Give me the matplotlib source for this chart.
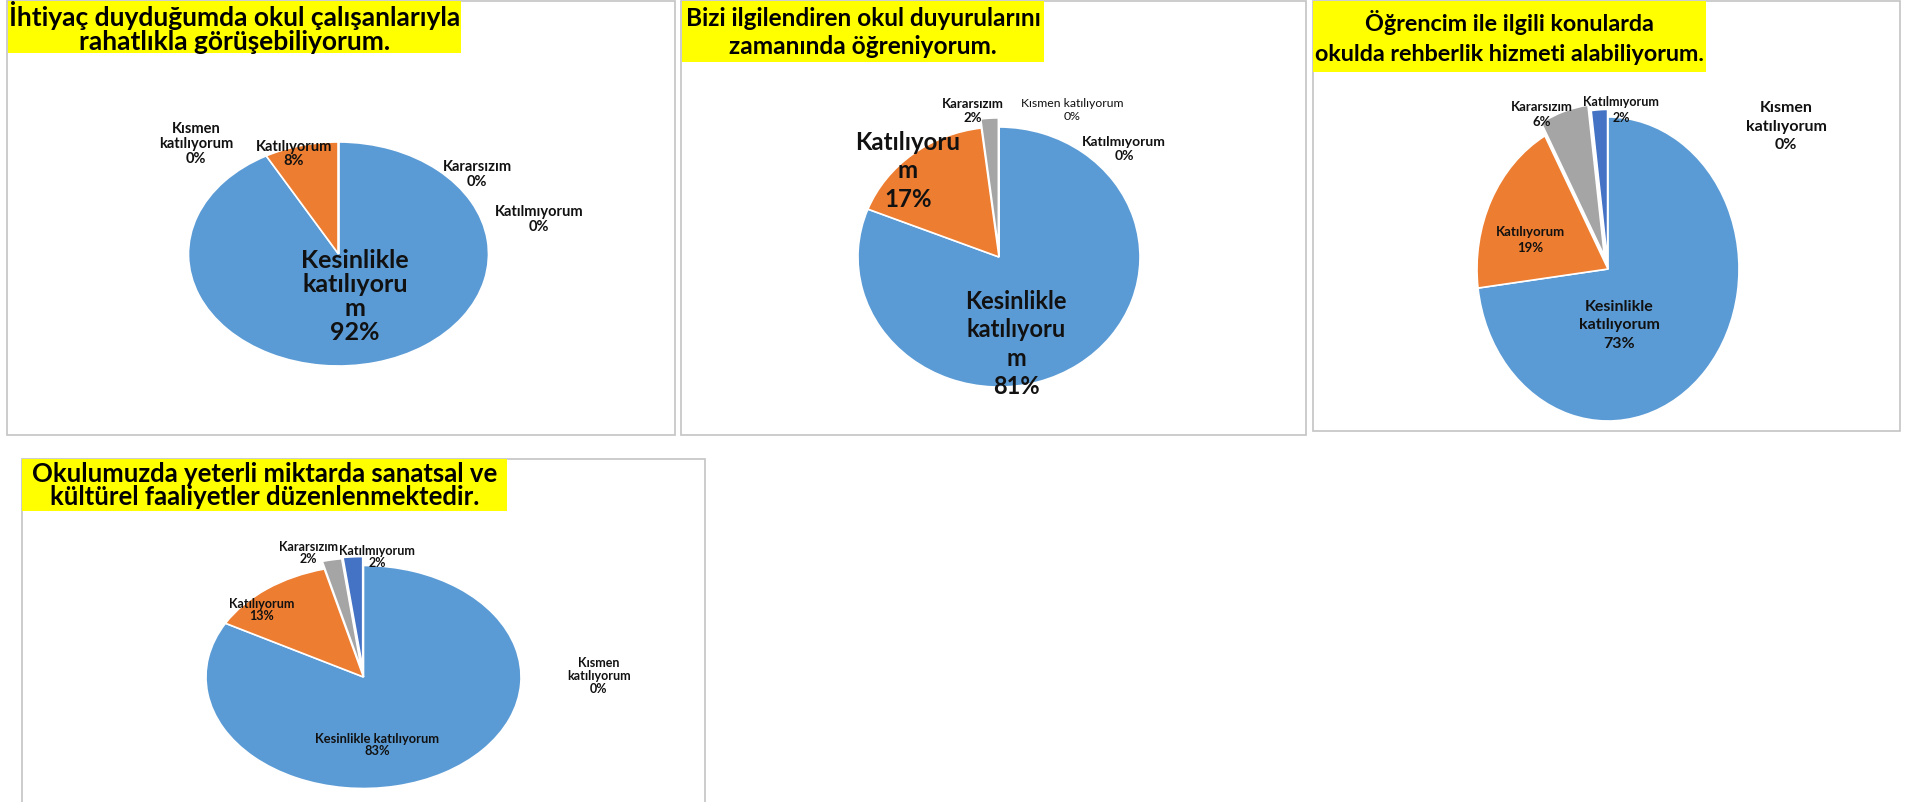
import matplotlib
matplotlib.use("Agg")
import matplotlib.pyplot as plt
from matplotlib.patches import Rectangle

plt.rcParams["font.family"] = ["Lato", "DejaVu Sans"]

W, H = 1908, 803

# --- data ---------------------------------------------------------------
categories = ["Kesinlikle katılıyorum", "Katılıyorum", "Kararsızım",
              "Kısmen katılıyorum", "Katılmıyorum"]
colors = ["#5B9BD5", "#ED7D31", "#A5A5A5", "#FFC000", "#4472C4"]

q1_title = "İhtiyaç duyduğumda okul çalışanlarıyla\nrahatlıkla görüşebiliyorum."
q2_title = "Bizi ilgilendiren okul duyurularını\nzamanında öğreniyorum."
q3_title = "Öğrencim ile ilgili konularda\nokulda rehberlik hizmeti alabiliyorum."
q4_title = "Okulumuzda yeterli miktarda sanatsal ve\nkültürel faaliyetler düzenlenmektedir."

q1_vals = [92, 8, 0, 0, 0]
q2_vals = [81, 17, 2, 0, 0]
q3_vals = [73, 19, 6, 0, 2]
q4_vals = [83, 13, 2, 0, 2]


def fx(x):
    return x / W


def fy(y):
    return 1 - y / H


fig = plt.figure(figsize=(W / 100, H / 100), dpi=100)
fig.patch.set_facecolor("white")


def frame(x0, y0, x1, y1):
    fig.patches.append(Rectangle((fx(x0), fy(y1)), fx(x1 - x0), (y1 - y0) / H,
                                 transform=fig.transFigure, fill=False,
                                 edgecolor="#C4C4C4", linewidth=1.2))


def title_box(x0, y0, x1, y1, text, size, ls=1.2):
    fig.patches.append(Rectangle((fx(x0), fy(y1)), fx(x1 - x0), (y1 - y0) / H,
                                 transform=fig.transFigure, facecolor="#FFFF00",
                                 edgecolor="none", zorder=2))
    fig.text(fx((x0 + x1) / 2), fy((y0 + y1) / 2), text, ha="center", va="center",
             fontsize=size, fontweight="bold", linespacing=ls, zorder=3)


def pie(cx, cy, rx, ry, vals, explode):
    m = 1.25
    ax = fig.add_axes([fx(cx - rx * m), fy(cy + ry * m), 2 * rx * m / W, 2 * ry * m / H])
    ax.pie(vals, colors=colors, startangle=90, counterclock=False, explode=explode,
           wedgeprops=dict(edgecolor="white", linewidth=1.2))
    ax.set_aspect("auto")
    ax.set_xlim(-m, m)
    ax.set_ylim(-m, m)
    ax.axis("off")
    return ax


def label(x, y, name, val, size, ls=1.2, weight="bold"):
    fig.text(fx(x), fy(y), f"{name}\n{val}%", ha="center", va="center",
             fontsize=size, fontweight=weight, linespacing=ls, color="#111111",
             zorder=5)


# --- panel 1 ------------------------------------------------------------
frame(7, 2, 675, 436)
title_box(8, 2, 461, 54, q1_title, 19, ls=1.0)
pie(338.5, 255, 150, 112, q1_vals, [0, 0, 0, 0, 0])
label(196, 144, "Kısmen\nkatılıyorum", q1_vals[3], 10.5, ls=1.05)
label(294, 154, "Katılıyorum", q1_vals[1], 10.5, ls=1.05)
label(477, 174.5, "Kararsızım", q1_vals[2], 10.5, ls=1.05)
label(539, 219.5, "Katılmıyorum", q1_vals[4], 10.5, ls=1.05)
label(355, 296.5, "Kesinlikle\nkatılıyoru\nm", q1_vals[0], 18, ls=1.05)

# --- panel 2 ------------------------------------------------------------
frame(681, 2, 1306, 436)
title_box(682, 2, 1044, 63, q2_title, 17.6, ls=1.28)
pie(999, 258, 141, 130, q2_vals, [0, 0, 0.07, 0, 0])
label(973, 111, "Kararsızım", q2_vals[2], 9.5, ls=1.2)
label(1072, 110, "Kısmen katılıyorum", q2_vals[3], 8.8, ls=1.15, weight="normal")
label(1124, 149, "Katılmıyorum", q2_vals[4], 10, ls=1.2)
label(908, 171, "Katılıyoru\nm", q2_vals[1], 17.3, ls=1.27)
label(1016, 344, "Kesinlikle\nkatılıyoru\nm", q2_vals[0], 17, ls=1.28)

# --- panel 3 ------------------------------------------------------------
frame(1313, 2, 1900, 432)
title_box(1313, 2, 1706, 73, q3_title, 16.8, ls=1.5)
pie(1608, 270, 131, 152, q3_vals, [0, 0, 0.09, 0, 0.05])
label(1542, 114.5, "Kararsızım", q3_vals[2], 9.5, ls=1.3)
label(1621, 110, "Katılmıyorum", q3_vals[4], 9, ls=1.4)
label(1530, 240, "Katılıyorum", q3_vals[1], 9.5, ls=1.3)
label(1619, 325.5, "Kesinlikle\nkatılıyorum", q3_vals[0], 11.5, ls=1.45)
label(1786, 126.5, "Kısmen\nkatılıyorum", q3_vals[3], 11.5, ls=1.4)

# --- panel 4 ------------------------------------------------------------
frame(22, 460, 705, 820)
title_box(22, 460, 507, 512, q4_title, 18.5, ls=0.95)
pie(363.5, 678, 157.5, 111.5, q4_vals, [0, 0, 0.07, 0, 0.08])
label(308, 553, "Kararsızım", q4_vals[2], 9, ls=1.0)
label(377, 557.5, "Katılmıyorum", q4_vals[4], 9, ls=1.0)
label(262, 610.5, "Katılıyorum", q4_vals[1], 9, ls=1.0)
label(377, 745, "Kesinlikle katılıyorum", q4_vals[0], 9.3, ls=1.0)
label(599, 676, "Kısmen\nkatılıyorum", q4_vals[3], 9, ls=1.1)

fig.savefig("out.png", dpi=100, facecolor="white")
